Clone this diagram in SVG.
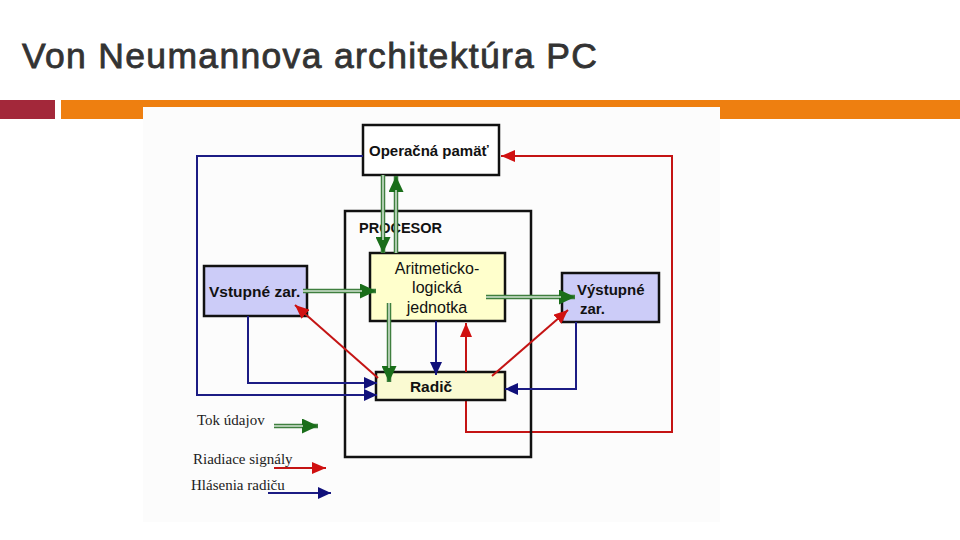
<svg xmlns="http://www.w3.org/2000/svg" width="960" height="540" viewBox="0 0 960 540">
<defs>
<style>
.box{stroke:#111;stroke-width:2.5}
.lbl{font-family:"Liberation Sans",Arial,sans-serif;fill:#111}
.b{font-weight:bold}
.leg{font-family:"Liberation Serif","Times New Roman",serif;font-size:15px;fill:#222}
.blue{fill:none;stroke:#1c1c84;stroke-width:2}
.red{fill:none;stroke:#c41414;stroke-width:2}
.gout{fill:none;stroke:#3f7f3f;stroke-width:4.5}
.gin{fill:none;stroke:#d4e4d4;stroke-width:1.5}
</style>
<marker id="ab" markerUnits="userSpaceOnUse" markerWidth="13" markerHeight="12" refX="13" refY="6" orient="auto"><path d="M0,0 L13,6 L0,12 z" fill="#10107a"/></marker>
<marker id="ar" markerUnits="userSpaceOnUse" markerWidth="14" markerHeight="12" refX="14" refY="6" orient="auto"><path d="M0,0 L14,6 L0,12 z" fill="#d01010"/></marker>
<marker id="ag" markerUnits="userSpaceOnUse" markerWidth="16" markerHeight="15" refX="16" refY="7.5" orient="auto"><path d="M0,0 L16,7.5 L0,15 z" fill="#1a6e1a"/></marker>
</defs>
<rect width="960" height="540" fill="#ffffff"/>
<text x="22" y="68" font-family="Liberation Sans,Arial,sans-serif" font-size="35.5" fill="#333333" stroke="#333333" stroke-width="0.8" textLength="575" lengthAdjust="spacing">Von Neumannova architektúra PC</text>
<rect x="0" y="100" width="55" height="19" fill="#a3283a"/>
<rect x="61" y="100" width="899" height="19" fill="#ee7f10"/>
<rect x="143" y="107" width="577" height="415" fill="#fcfcfc"/>

<g id="connectors-back">
<path class="red" d="M466,400 L466,432 L672,432 L672,156 L501,156" marker-end="url(#ar)"/>
</g>

<g id="node-pamat">
<rect class="box" x="363" y="125" width="136" height="50" fill="#ffffff"/>
<text class="lbl b" x="369" y="156" font-size="15">Operačná pamäť</text>
</g>
<g id="node-procesor">
<rect class="box" x="345" y="211" width="186" height="246" fill="none"/>
<text class="lbl b" x="359" y="233" font-size="14.5">PROCESOR</text>
</g>
<g id="node-alu">
<rect class="box" x="370" y="253" width="135" height="68" fill="#ffffcc"/>
<text class="lbl" x="437" y="274" font-size="16" text-anchor="middle">Aritmeticko-</text>
<text class="lbl" x="437" y="293" font-size="16" text-anchor="middle">logická</text>
<text class="lbl" x="437" y="313" font-size="16" text-anchor="middle">jednotka</text>
</g>
<g id="node-radic">
<rect class="box" x="376" y="372" width="129" height="28" fill="#fafad2"/>
<text class="lbl b" x="431" y="392" font-size="15.5" text-anchor="middle">Radič</text>
</g>
<g id="node-vstup">
<rect class="box" x="204" y="266" width="103" height="50" fill="#ccccf8"/>
<text class="lbl b" x="209" y="297" font-size="15.5">Vstupné zar.</text>
</g>
<g id="node-vystup">
<rect class="box" x="562" y="273" width="97" height="49" fill="#ccccf8"/>
<text class="lbl b" x="577" y="295" font-size="15">Výstupné</text>
<text class="lbl b" x="580" y="314" font-size="15">zar.</text>
</g>

<g id="connectors">
<path class="gout" d="M383,175 L383,253" marker-end="url(#ag)"/>
<path class="gin" d="M383,175 L383,240"/>
<path class="gout" d="M396,253 L396,176" marker-end="url(#ag)"/>
<path class="gin" d="M396,253 L396,190"/>
<path class="gout" d="M303,291 L376,291" marker-end="url(#ag)"/>
<path class="gin" d="M303,291 L362,291"/>
<path class="gout" d="M486,297 L575,297" marker-end="url(#ag)"/>
<path class="gin" d="M486,297 L561,297"/>
<path class="gout" d="M389,303 L389,382" marker-end="url(#ag)"/>
<path class="gin" d="M389,303 L389,368"/>
<path class="blue" d="M363,156 L197,156 L197,395 L377,395" marker-end="url(#ab)"/>
<path class="blue" d="M248,316 L248,383 L377,383" marker-end="url(#ab)"/>
<path class="blue" d="M576,322 L576,389 L505,389" marker-end="url(#ab)"/>
<path class="blue" d="M436,321 L436,375" marker-end="url(#ab)"/>
<path class="red" d="M466,372 L466,323" marker-end="url(#ar)"/>
<path class="red" d="M378,378 L295,305" marker-end="url(#ar)"/>
<path class="red" d="M492,376 L568,310" marker-end="url(#ar)"/>
</g>

<g id="legend">
<text class="leg" x="197" y="425">Tok údajov</text>
<path class="gout" d="M274,426 L318,426" marker-end="url(#ag)"/>
<path class="gin" d="M274,426 L303,426"/>
<text class="leg" x="193" y="464">Riadiace signály</text>
<path class="red" d="M274,468 L326,468" marker-end="url(#ar)"/>
<text class="leg" x="191" y="490">Hlásenia radiču</text>
<path class="blue" d="M268,493 L331,493" marker-end="url(#ab)"/>
</g>
</svg>
